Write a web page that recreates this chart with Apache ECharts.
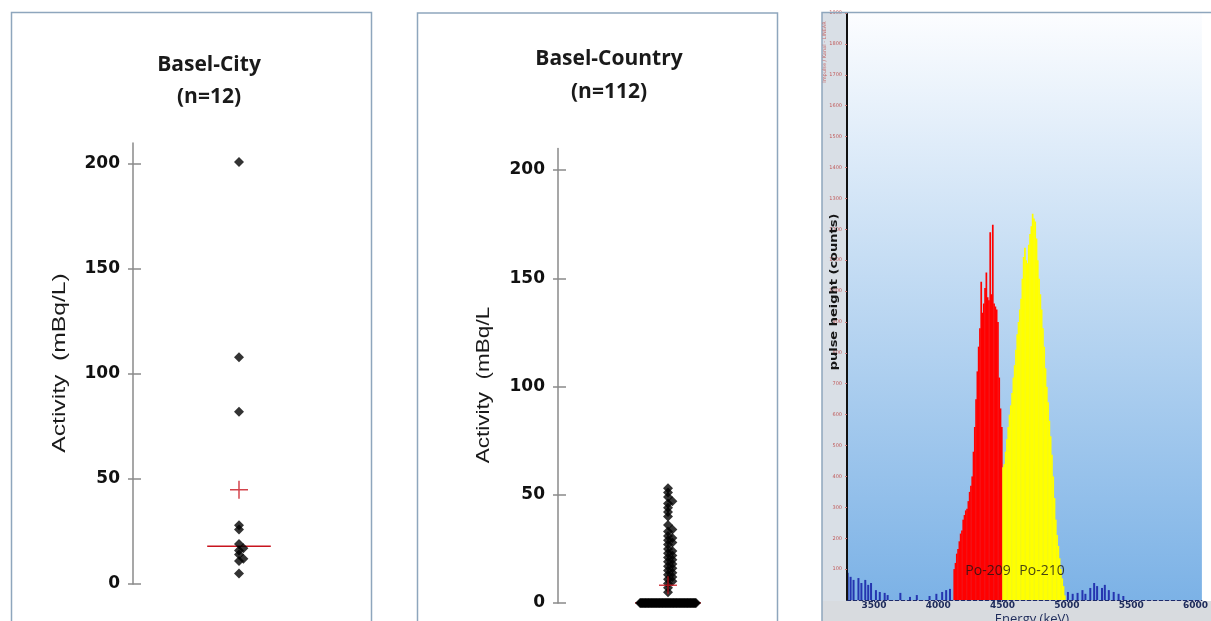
<!DOCTYPE html>
<html>
<head>
<meta charset="utf-8">
<script src="https://cdn.jsdelivr.net/npm/echarts@6/dist/echarts.min.js"></script>
<style>
html,body{margin:0;padding:0;background:#fff;}
#chart{width:1211px;height:621px;}
</style>
</head>
<body>
<div id="chart"></div>
<script>
// ---------------- DATA ----------------
const activityTicks = [0, 50, 100, 150, 200];
const cityValues = [201, 108, 82, 28, 26, 19, 17, 16, 14, 12, 11, 5];
const countryValues = [
  53, 51, 49, 47, 46, 44, 42, 40, 36, 34, 33, 31, 30, 29, 28, 27,
  25, 24, 23, 22, 21, 20, 19, 18, 17, 16, 15, 14, 13, 12, 11, 10, 9, 7, 5,
  0, 0, 0, 0, 0, 0, 0, 0, 0, 0, 0, 0, 0, 0, 0, 0, 0, 0, 0, 0,
  0, 0, 0, 0, 0, 0, 0, 0, 0, 0, 0, 0, 0, 0, 0, 0, 0, 0, 0, 0,
  0, 0, 0, 0, 0, 0, 0, 0, 0, 0, 0, 0, 0, 0, 0, 0, 0, 0, 0, 0,
  0, 0, 0, 0, 0, 0, 0, 0, 0, 0, 0, 0, 0, 0, 0, 0, 0
];
const energyTicks = [3500, 4000, 4500, 5000, 5500, 6000];
const binWidth = 10; // keV
const po209Start = 4120;
const po209Counts = [100, 120, 150, 165, 190, 215, 225, 260, 275, 290, 295, 320, 350, 370, 400, 480,
  560, 650, 740, 820, 880, 1030, 930, 960, 1010, 1060, 980, 970, 1190, 990, 1215, 960, 950, 940, 900, 720, 620, 560];
const po210Start = 4500;
const po210Counts = [430, 440, 480, 520, 560, 600, 630, 670, 720, 760, 810, 860, 900, 940, 975, 1040,
  1110, 1140, 1100, 1090, 1150, 1185, 1210, 1250, 1235, 1225, 1170, 1100, 1040, 990, 940, 880, 820, 750,
  690, 640, 580, 530, 470, 400, 330, 260, 210, 175, 135, 100, 70, 45, 15];
const noiseEnergy = [3295, 3318, 3341, 3379, 3402, 3432, 3455, 3477, 3515, 3545, 3583, 3606, 3705, 3780, 3833,
  3932, 3985, 4030, 4061, 4091, 5008, 5045, 5083, 5121, 5144, 5182, 5212, 5235, 5273, 5295, 5326, 5364, 5402, 5439];
const noiseCounts = [88, 75, 65, 71, 55, 65, 49, 55, 32, 26, 23, 16, 23, 10, 16,
  13, 20, 26, 32, 36, 26, 20, 23, 32, 20, 39, 55, 45, 39, 49, 32, 26, 20, 13];

// ---------------- helpers ----------------
function mean(a){ return a.reduce((s,v)=>s+v,0)/a.length; }
function median(a){ const s=a.slice().sort((x,y)=>x-y); const m=s.length>>1; return s.length%2?s[m]:(s[m-1]+s[m])/2; }
// deterministic dot-plot layout (spread of coincident / overlapping dots)
function swarm(values, pxY, pxX, center){
  const sorted = values.slice().sort((a,b)=>a-b);
  const counts = {}; sorted.forEach(v=>counts[v]=(counts[v]||0)+1);
  const seen = {}; const placed = [];
  return sorted.map(v=>{
    const n = counts[v]; const y = v*pxY; let off;
    if (n > 3) {
      const w = Math.min((n-1)*3, 56);
      seen[v] = (seen[v]||0)+1;
      off = -w/2 + (seen[v]-1)*w/(n-1);
    } else {
      const cands = [0, 2.2, -2.2, 4.4, -4.4, 6.6, -6.6];
      off = cands.find(c => placed.every(p => Math.hypot(p[0]-c, p[1]-y) >= 4));
      if (off === undefined) off = 0;
    }
    placed.push([off, y]);
    return [center + off/pxX, v];
  });
}
const crossPath = 'path://M9,0h1.6v9h9v1.6h-9v9h-1.6v-9h-9v-1.6h9z';
const RED = '#c8141e';
const plain = v => String(v);

function dotSeries(values, idx, pxY, pxX){
  const med = median(values), mu = mean(values);
  return [
    {type:'line', xAxisIndex:idx, yAxisIndex:idx*2, data:[[0.7, med],[1.3, med]], symbol:'none',
     lineStyle:{color:RED, width:1.5}, z:2, silent:true},
    {type:'scatter', xAxisIndex:idx, yAxisIndex:idx*2, data: swarm(values, pxY, pxX, 1),
     symbol:'diamond', symbolSize:10, itemStyle:{color:'#000'}, z:3, silent:true},
    {type:'scatter', xAxisIndex:idx, yAxisIndex:idx*2, data:[[1, mu]], symbol:crossPath, symbolSize:18,
     itemStyle:{color:RED}, z:4, silent:true}
  ];
}

function activityAxes(gridIndex){
  return [
    {type:'value', gridIndex, position:'left', min:0, max:210,
     axisLine:{show:true, lineStyle:{color:'#8a8a8a', width:1.5}},
     axisTick:{show:true, length:5, customValues:activityTicks, lineStyle:{color:'#8a8a8a', width:1.5}},
     axisLabel:{customValues:activityTicks, margin:13, color:'#111', fontFamily:'DejaVu Sans', fontWeight:'bold', fontSize:17},
     splitLine:{show:false}},
    {type:'value', gridIndex, position:'left', offset:0, min:0, max:210,
     axisLine:{show:true, lineStyle:{color:'rgba(0,0,0,0)', width:1}},
     axisTick:{show:true, inside:true, length:8, customValues:activityTicks, lineStyle:{color:'#8a8a8a', width:1.5}},
     axisLabel:{show:false}, splitLine:{show:false}}
  ];
}

const chart = echarts.init(document.getElementById('chart'), null, {renderer:'canvas'});

const gradient = new echarts.graphic.LinearGradient(0,0,0,1,[
  {offset:0, color:'#fcfdff'},
  {offset:0.45, color:'#c2dbf3'},
  {offset:1, color:'#7cb2e6'}
]);

const option = {
  animation:false,
  backgroundColor:'#ffffff',
  grid:[
    {left:133, top:143, width:212, height:441},
    {left:558, top:148.4, width:220, height:454.6},
    {left:847, top:13, width:364, height:587, show:true, backgroundColor:gradient, borderWidth:0}
  ],
  xAxis:[
    {type:'value', gridIndex:0, min:0, max:2, show:false},
    {type:'value', gridIndex:1, min:0, max:2, show:false},
    {type:'value', gridIndex:2, min:3290, max:6050, z:20,
     axisLine:{show:true, lineStyle:{color:'#1d2a6b', width:1, type:'dashed'}},
     axisTick:{show:true, customValues:energyTicks, length:2, lineStyle:{color:'#1d2a6b'}},
     axisLabel:{customValues:energyTicks, formatter:plain, margin:1, fontSize:9, fontWeight:'bold', color:'#1d2a5a', fontFamily:'DejaVu Sans'},
     splitLine:{show:false}}
  ],
  yAxis:[
    ...activityAxes(0),
    ...activityAxes(1),
    {type:'value', gridIndex:2, min:0, max:1900, interval:100, z:20,
     axisLine:{show:true, lineStyle:{color:'#111', width:2}},
     axisTick:{show:true, length:2, lineStyle:{color:'#c77'}},
     axisLabel:{show:true, formatter:plain, fontSize:5, color:'#c05a5a', margin:5, showMinLabel:false, fontFamily:'DejaVu Sans'},
     splitLine:{show:false}}
  ],
  series:[
    ...dotSeries(cityValues, 0, 2.1, 106),
    ...dotSeries(countryValues, 1, 2.165, 110),
    {type:'bar', name:'Po-209', xAxisIndex:2, yAxisIndex:4, barWidth:1.7,
     data: po209Counts.map((c,i)=>[po209Start + i*binWidth + binWidth/2, c]),
     itemStyle:{color:'#ff0000'}, silent:true},
    {type:'bar', name:'Po-210', xAxisIndex:2, yAxisIndex:4, barWidth:1.7,
     data: po210Counts.map((c,i)=>[po210Start + i*binWidth + binWidth/2, c]),
     itemStyle:{color:'#ffff00'}, silent:true},
    {type:'bar', name:'background', xAxisIndex:2, yAxisIndex:4, barWidth:2, barGap:'-100%',
     data: noiseEnergy.map((e,i)=>[e, noiseCounts[i]]),
     itemStyle:{color:'#2535b0'}, silent:true}
  ],
  graphic:[
    // side strips of the spectrum picture
    {type:'rect', shape:{x:822, y:13, width:25, height:610}, style:{fill:'#d9dfe6'}, z:-10, silent:true},
    {type:'rect', shape:{x:822, y:601, width:400, height:25}, style:{fill:'#d8dbdf'}, z:-10, silent:true},
    // panel frames
    {type:'rect', shape:{x:11.5, y:12.5, width:360, height:640}, style:{fill:'none', stroke:'#8ea6bd', lineWidth:1.5}, z:50, silent:true},
    {type:'rect', shape:{x:417.5, y:13, width:360, height:640}, style:{fill:'none', stroke:'#8ea6bd', lineWidth:1.5}, z:50, silent:true},
    {type:'rect', shape:{x:822, y:12.5, width:420, height:640}, style:{fill:'none', stroke:'#8ea6bd', lineWidth:1.5}, z:50, silent:true},
    // titles
    {type:'text', x:209, y:65, style:{text:'Basel-City', align:'center', verticalAlign:'middle', font:'bold 21px "Open Sans"', fill:'#1a1a1a'}, z:50},
    {type:'text', x:209, y:97, style:{text:'(n=12)', align:'center', verticalAlign:'middle', font:'bold 21px "Open Sans"', fill:'#1a1a1a'}, z:50},
    {type:'text', x:609, y:59, style:{text:'Basel-Country', align:'center', verticalAlign:'middle', font:'bold 21px "Open Sans"', fill:'#1a1a1a'}, z:50},
    {type:'text', x:609, y:92, style:{text:'(n=112)', align:'center', verticalAlign:'middle', font:'bold 21px "Open Sans"', fill:'#1a1a1a'}, z:50},
    // axis names
    {type:'text', x:60, y:363, rotation:Math.PI/2, scaleX:1.37, style:{text:'Activity  (mBq/L)', align:'center', verticalAlign:'middle', font:'18px "Liberation Sans"', fill:'#1a1a1a'}, z:50},
    {type:'text', x:484, y:385, rotation:Math.PI/2, scaleX:1.25, style:{text:'Activity  (mBq/L', align:'center', verticalAlign:'middle', font:'18px "Liberation Sans"', fill:'#1a1a1a'}, z:50},
    {type:'text', x:834, y:292, rotation:Math.PI/2, scaleX:1.18, style:{text:'pulse height (counts)', align:'center', verticalAlign:'middle', font:'bold 11px "DejaVu Sans"', fill:'#151515'}, z:50},
    {type:'text', x:825, y:52, rotation:Math.PI/2, style:{text:'Impulse / Kanal - LINEAR', align:'center', verticalAlign:'middle', font:'5px "DejaVu Sans"', fill:'#c46a6a'}, z:50},
    // peak labels
    {type:'text', x:988, y:571, style:{text:'Po-209', align:'center', verticalAlign:'middle', font:'14px "Open Sans"', fill:'rgba(25,20,20,0.8)'}, z:50},
    {type:'text', x:1042, y:571, style:{text:'Po-210', align:'center', verticalAlign:'middle', font:'14px "Open Sans"', fill:'rgba(25,20,20,0.8)'}, z:50},
    {type:'text', x:1032, y:619, style:{text:'Energy (keV)', align:'center', verticalAlign:'middle', font:'13px "Open Sans"', fill:'#1d2a5a'}, z:50}
  ]
};
chart.setOption(option);
</script>
</body>
</html>
